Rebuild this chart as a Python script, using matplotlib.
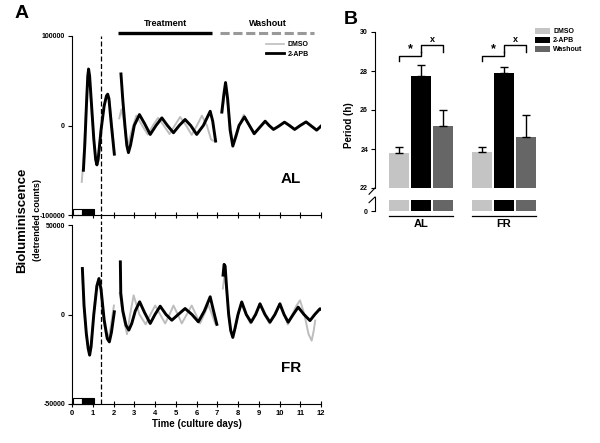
import matplotlib
matplotlib.use("Agg")
import matplotlib.pyplot as plt
from matplotlib.patches import Rectangle
from matplotlib.lines import Line2D
import matplotlib.transforms as mtrans

plt.rcParams["font.family"] = ["Liberation Sans", "DejaVu Sans"]
plt.rcParams["font.weight"] = "bold"

# === Datos panel A (bioluminiscencia, tres tramos por curva) ===
AL_APB_T = [
    [0.55, 0.62, 0.70, 0.76, 0.80, 0.85, 0.95, 1.05, 1.14, 1.20, 1.26, 1.40, 1.55, 1.66, 1.72, 1.78, 1.90, 2.04],
    [2.36, 2.45, 2.55, 2.64, 2.72, 2.82, 3.00, 3.25, 3.50, 3.77, 4.05, 4.33, 4.60, 4.89, 5.17, 5.45, 5.72, 6.01, 6.33, 6.66, 6.78, 6.92],
    [7.22, 7.32, 7.40, 7.50, 7.62, 7.75, 7.90, 8.05, 8.31, 8.55, 8.78, 9.05, 9.31, 9.50, 9.71, 9.98, 10.24, 10.48, 10.73, 11.00, 11.28, 11.53, 11.79, 12.0],
]
AL_APB_V = [
    [-50000, -20000, 25000, 55000, 63000, 55000, 20000, -15000, -38000, -44000, -38000, -5000, 22000, 33000, 35000, 30000, 0, -32000],
    [57600, 28000, 0, -22000, -30300, -22000, 0, 12200, 2000, -10000, 0, 8500, 0, -8100, 0, 6700, 0, -10000, 0, 15900, 5000, -17400],
    [15000, 35000, 48000, 30000, -5000, -23000, -12000, 0, 9600, 0, -9200, -2000, 4800, 0, -4400, -500, 3700, 0, -4400, 0, 4000, -500, -5200, -700],
]
AL_DMSO_T = [
    [0.47, 0.55, 0.63, 0.72, 0.78, 0.82, 0.95, 1.08, 1.18, 1.25, 1.35, 1.50, 1.65, 1.72, 1.80, 1.95, 2.04],
    [2.28, 2.38, 2.50, 2.62, 2.70, 2.85, 3.10, 3.38, 3.65, 3.90, 4.15, 4.42, 4.70, 4.95, 5.21, 5.50, 5.77, 6.02, 6.26, 6.50, 6.70, 6.80],
    [7.25, 7.40, 7.55, 7.75, 8.00, 8.28, 8.55, 8.80, 9.05, 9.30, 9.55, 9.75, 10.0, 10.25, 10.5, 10.75, 11.0, 11.27, 11.55, 11.8, 12.0],
]
AL_DMSO_V = [
    [-63000, -40000, -5000, 40000, 64000, 58000, 15000, -25000, -40000, -38000, -15000, 15000, 32000, 34000, 28000, -5000, -30000],
    [8000, 18000, 5000, -18000, -22000, -8000, 11000, 0, -10000, 0, 8500, 0, -9500, 0, 9500, 0, -10500, 0, 11000, 0, -15500, -17000],
    [15000, 44000, 15000, -20000, -3000, 12000, 0, -8000, -2000, 5000, -1000, -4000, 0, 4000, -1000, -4000, 0, 4000, -1000, -5000, -1000],
]
FR_APB_T = [
    [0.50, 0.58, 0.69, 0.78, 0.85, 0.92, 1.05, 1.20, 1.30, 1.40, 1.55, 1.70, 1.80, 1.90, 2.04],
    [2.33, 2.35, 2.45, 2.60, 2.74, 2.88, 3.05, 3.26, 3.50, 3.77, 4.00, 4.25, 4.53, 4.81, 5.12, 5.45, 5.78, 6.09, 6.38, 6.66, 6.80, 6.98],
    [7.28, 7.33, 7.38, 7.45, 7.55, 7.65, 7.75, 7.85, 8.0, 8.18, 8.40, 8.63, 8.85, 9.06, 9.30, 9.54, 9.78, 10.02, 10.22, 10.42, 10.66, 10.90, 11.18, 11.47, 11.70, 11.95, 12.0],
]
FR_APB_V = [
    [25700, 5000, -10600, -19000, -22700, -18000, 0, 16000, 20100, 14000, -3000, -13500, -15300, -10000, 1500],
    [29400, 12000, 2000, -6000, -8700, -5000, 2000, 7100, 1000, -5000, 0, 4650, 0, -3200, 0, 3350, 0, -4100, 2000, 9900, 3000, -5500],
    [22000, 28000, 27000, 15000, 0, -9000, -12800, -8000, 0, 7000, 0, -4300, 0, 6000, 0, -4300, 0, 6000, 0, -4300, 0, 4100, 0, -3400, 0, 3200, 3000],
]
FR_DMSO_T = [
    [0.50, 0.58, 0.69, 0.78, 0.85, 0.92, 1.05, 1.18, 1.28, 1.38, 1.52, 1.65, 1.75, 1.88, 2.02],
    [2.30, 2.45, 2.65, 2.80, 2.97, 3.25, 3.55, 3.78, 4.01, 4.25, 4.49, 4.70, 4.89, 5.10, 5.29, 5.53, 5.77, 5.97, 6.17, 6.37, 6.57, 6.75, 6.90],
    [7.27, 7.35, 7.45, 7.55, 7.65, 7.75, 7.88, 8.0, 8.15, 8.38, 8.60, 8.82, 9.05, 9.28, 9.52, 9.76, 10.0, 10.22, 10.40, 10.62, 10.82, 10.99, 11.2, 11.4, 11.55, 11.65, 11.72],
]
FR_DMSO_V = [
    [24000, 4000, -11000, -19000, -22000, -17000, 1000, 16000, 20000, 14000, -3000, -12000, -14000, -6000, 5000],
    [12000, 0, -11000, 0, 10700, 0, -5500, 0, 5000, 0, -5000, 0, 5000, 0, -5000, 0, 5000, 0, -5000, 0, 5500, 0, -5000],
    [14500, 22000, 14000, 0, -9000, -12000, -7000, 0, 6500, 0, -5000, 0, 5500, 0, -5000, 0, 5500, 0, -5600, 0, 5000, 7900, 0, -11000, -14600, -9000, -3400],
]

# === Datos panel B (periodo en horas) ===
GRUPOS = ["AL", "FR"]
TRATAMIENTOS = ["DMSO", "2-APB", "Washout"]
PERIODO_AL = [23.77, 27.72, 25.18]
ERROR_AL = [0.31, 0.6, 0.82]
PERIODO_FR = [23.85, 27.92, 24.63]
ERROR_FR = [0.23, 0.28, 1.12]

GRIS = "#bdbdbd"
COLORES_BAR = ["#c4c4c4", "#000000", "#666666"]

W, H = 600, 443
fig = plt.figure(figsize=(6, 4.43), dpi=100)


def fx(px):
    return px / W


def fy(py):
    return 1 - py / H


ax_al = fig.add_axes([fx(72), fy(215), fx(321) - fx(72), fy(36) - fy(215)])
ax_fr = fig.add_axes([fx(72), fy(404), fx(321) - fx(72), fy(225) - fy(404)])

for ax, tg, vg, tb, vb, lim, etiqueta in [
        (ax_al, AL_DMSO_T, AL_DMSO_V, AL_APB_T, AL_APB_V, 100000, "AL"),
        (ax_fr, FR_DMSO_T, FR_DMSO_V, FR_APB_T, FR_APB_V, 50000, "FR")]:
    for t, v in zip(tg, vg):
        ax.plot(t, v, color=GRIS, lw=1.4, solid_joinstyle="round")
    for t, v in zip(tb, vb):
        ax.plot(t, v, color="black", lw=2.1, solid_joinstyle="round")
    ax.set_xlim(0, 12)
    ax.set_ylim(-lim, lim)
    ax.set_yticks([-lim, 0, lim])
    ax.set_yticklabels([str(-lim), "0", str(lim)])
    ax.set_xticks(range(13))
    ax.spines["top"].set_visible(False)
    ax.spines["right"].set_visible(False)
    ax.tick_params(axis="y", direction="out", length=3, width=0.8, labelsize=5, pad=2)
    ax.tick_params(axis="x", direction="inout", length=5, width=0.8, labelsize=5.5, pad=2)
    ax.axvline(1.4, color="black", lw=0.9, ls=(0, (4, 2)),
               ymin=-0.06 if ax is ax_al else 0, ymax=1, clip_on=False)
    # barra luz/oscuridad
    tr = mtrans.blended_transform_factory(ax.transData, ax.transAxes)
    ax.add_patch(Rectangle((0.05, 0), 0.45, 0.035, transform=tr, facecolor="white",
                           edgecolor="black", lw=0.8, clip_on=False))
    ax.add_patch(Rectangle((0.5, 0), 0.55, 0.035, transform=tr, facecolor="black",
                           edgecolor="black", lw=0.8, clip_on=False))
    ax.text(0.88, 0.2, etiqueta, transform=ax.transAxes, fontsize=11,
            fontweight="bold", ha="center", va="center")

ax_al.tick_params(axis="x", labelbottom=False)
ax_fr.set_xlabel("Time (culture days)", fontsize=7, fontweight="bold", labelpad=1)

# tratamiento / lavado
tr = mtrans.blended_transform_factory(ax_al.transData, ax_al.transAxes)
ax_al.plot([2.2, 6.75], [1.017, 1.017], color="black", lw=2.4, transform=tr,
           clip_on=False, solid_capstyle="butt")
ax_al.plot([7.15, 11.65], [1.017, 1.017], color="#999999", lw=2.2, ls=(0, (3, 1.2)),
           transform=tr, clip_on=False)
ax_al.text(4.5, 1.045, "Treatment", transform=tr, fontsize=6.5, ha="center", va="bottom")
ax_al.text(9.45, 1.045, "Washout", transform=tr, fontsize=6.5, ha="center", va="bottom")

leg = ax_al.legend(handles=[Line2D([], [], color=GRIS, lw=1.2),
                            Line2D([], [], color="black", lw=2.0)],
                   labels=["DMSO", "2-APB"], loc="upper left",
                   bbox_to_anchor=(0.78, 0.97), frameon=False, fontsize=5,
                   handlelength=2.6, handletextpad=0.5, labelspacing=0.35,
                   borderpad=0, borderaxespad=0)

fig.text(fx(22), fy(220), "Bioluminiscence", rotation=90, fontsize=9.5,
         fontweight="bold", ha="center", va="center")
fig.text(fx(37), fy(220), "(detrended counts)", rotation=90, fontsize=6.5,
         fontweight="bold", ha="center", va="center")
fig.text(fx(22), fy(14), "A", fontsize=14, fontweight="bold", ha="center", va="center")
fig.text(fx(351), fy(20), "B", fontsize=14, fontweight="bold", ha="center", va="center")

# === Panel B ===
xu = lambda px: (px - 399) / 22.0
ax_b = fig.add_axes([fx(375), fy(188), fx(545) - fx(375), fy(32) - fy(188)])
ax_b0 = fig.add_axes([fx(375), fy(211), fx(545) - fx(375), fy(197) - fy(211)])

pos_al = [0, 1, 2]
pos_fr = [xu(482), xu(504), xu(526)]
ancho = 0.87

for pos, per, err in [(pos_al, PERIODO_AL, ERROR_AL), (pos_fr, PERIODO_FR, ERROR_FR)]:
    ax_b.bar(pos, per, width=ancho, color=COLORES_BAR, edgecolor="none")
    ax_b.errorbar(pos, per, yerr=[[0] * len(err), err], fmt="none", ecolor="black",
                  elinewidth=1.0, capsize=3, capthick=1.0)
    ax_b0.bar(pos, [0.8] * len(pos), width=ancho, color=COLORES_BAR, edgecolor="none")
    # corchetes de significancia
    ax_b.plot([pos[0], pos[0], pos[1], pos[1]], [28.49, 28.78, 28.78, 28.95],
              color="black", lw=1.0)
    ax_b.text((pos[0] + pos[1]) / 2, 28.8, "*", fontsize=9, ha="center", va="bottom")
    ax_b.plot([pos[1], pos[1], pos[2], pos[2]], [28.95, 29.35, 29.35, 28.95],
              color="black", lw=1.0)
    ax_b.text((pos[1] + pos[2]) / 2, 29.4, "x", fontsize=6.5, ha="center", va="bottom")

for ax in (ax_b, ax_b0):
    ax.set_xlim(xu(375), xu(545))
    for s in ("top", "right", "bottom"):
        ax.spines[s].set_visible(False)
    ax.set_xticks([])
    ax.tick_params(axis="y", direction="out", length=3, width=0.8, labelsize=5, pad=2)

ax_b.set_ylim(22, 30)
ax_b.set_yticks([22, 24, 26, 28, 30])
ax_b0.set_ylim(0, 1)
ax_b0.set_yticks([0])

# marcas de corte del eje
ax_b.plot([-0.035, 0.0], [-0.04, 0.0], color="black", lw=0.8, transform=ax_b.transAxes, clip_on=False)
ax_b0.plot([-0.035, 0.0], [0.6, 1.0], color="black", lw=0.8, transform=ax_b0.transAxes, clip_on=False)

trb = mtrans.blended_transform_factory(ax_b0.transData, ax_b0.transAxes)
for pos, g in [(pos_al, GRUPOS[0]), (pos_fr, GRUPOS[1])]:
    ax_b0.plot([pos[0] - 0.45, pos[2] + 0.45], [-0.36, -0.36], color="black", lw=0.9,
               transform=trb, clip_on=False)
    ax_b0.text(pos[1], -0.55, g, transform=trb, fontsize=8, ha="center", va="top")

fig.text(fx(349), fy(125), "Period (h)", rotation=90, fontsize=7, ha="center", va="center")

handles = [Rectangle((0, 0), 1, 1, facecolor=c, edgecolor="none") for c in COLORES_BAR]
fig.legend(handles, TRATAMIENTOS, loc="upper left", bbox_to_anchor=(fx(535), fy(28)),
           frameon=False, fontsize=5, handlelength=2.2, handleheight=0.9,
           handletextpad=0.4, labelspacing=0.25, borderpad=0, borderaxespad=0)

fig.savefig("out.png", dpi=100)
